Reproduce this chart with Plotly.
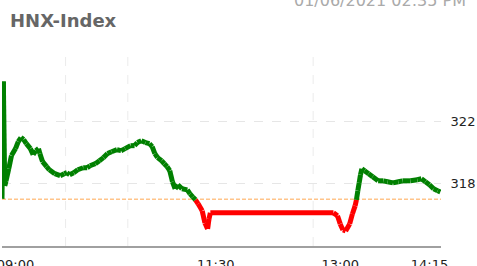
import plotly.graph_objects as go

# ---------------- data ----------------
DAY = "2021-06-01"
times = ["09:00", "09:01", "09:02", "09:03", "09:05", "09:07", "09:10", "09:12", "09:14", "09:16",
         "09:18", "09:21", "09:23", "09:25", "09:27", "09:28", "09:30", "09:33", "09:35", "09:39",
         "09:43", "09:46", "09:48", "09:50", "09:53", "09:56", "10:00", "10:03", "10:05", "10:09",
         "10:12", "10:15", "10:18", "10:21", "10:25", "10:28", "10:31", "10:35", "10:38", "10:40",
         "10:43", "10:46", "10:49", "10:51", "10:53", "10:55", "10:58", "11:00", "11:02", "11:04",
         "11:06", "11:08", "11:10", "11:13", "11:17", "11:19", "11:21", "11:23", "11:25", "11:28",
         "11:30", "11:32", "11:33", "11:34", "13:05", "13:08", "13:10", "13:12", "13:14", "13:17",
         "13:19", "13:21", "13:22", "13:23", "13:24", "13:25", "13:26", "13:28", "13:31", "13:34",
         "13:38", "13:42", "13:45", "13:49", "13:53", "13:56", "14:02", "14:07", "14:10", "14:13",
         "14:16", "14:19", "14:22", "14:24"]
index_values = [317.03, 324.58, 317.87, 318.19, 318.97, 319.81, 320.26, 320.71, 320.97, 320.84,
                320.58, 320.26, 319.87, 320.13, 320.26, 319.94, 319.42, 319.10, 318.90, 318.65,
                318.52, 318.65, 318.71, 318.58, 318.71, 318.90, 319.03, 319.03, 319.16, 319.29,
                319.48, 319.68, 319.94, 320.06, 320.19, 320.13, 320.26, 320.45, 320.45, 320.65,
                320.77, 320.65, 320.58, 320.39, 319.94, 319.68, 319.48, 319.29, 319.10, 318.84,
                318.13, 317.68, 317.94, 317.68, 317.61, 317.35, 317.16, 316.97, 316.71, 316.26,
                315.48, 315.10, 315.74, 316.13, 316.13, 315.94, 315.42, 315.03, 314.97, 315.42,
                316.06, 316.58, 316.97, 317.55, 318.06, 318.58, 318.97, 318.84, 318.65, 318.45,
                318.19, 318.19, 318.13, 318.06, 318.13, 318.19, 318.19, 318.26, 318.32, 318.13,
                317.94, 317.68, 317.55, 317.48]
reference_value = 317.0

x_tick_labels = ["09:00", "11:30", "13:00", "14:15"]
x_label_positions = ["09:10", "11:38", "13:10", "14:16"]
x_grid_positions = ["09:47", "10:33", "12:50"]
y_tick_values = [318, 322]

title_text = "HNX-Index"
timestamp_text = "01/06/2021 02:35 PM"

# ---------------- build ----------------
def ts(t):
    return f"{DAY} {t}"

xs = [ts(t) for t in times]

GREEN = "#008000"
RED = "#ff0000"

green_x, green_y, red_x, red_y = [], [], [], []
for i in range(len(xs) - 1):
    avg = (index_values[i] + index_values[i + 1]) / 2
    if avg >= reference_value:
        green_x += [xs[i], xs[i + 1], None]
        green_y += [index_values[i], index_values[i + 1], None]
    else:
        red_x += [xs[i], xs[i + 1], None]
        red_y += [index_values[i], index_values[i + 1], None]

fig = go.Figure()
fig.add_trace(go.Scatter(x=red_x, y=red_y, mode="lines",
                         line=dict(color=RED, width=5), hoverinfo="skip", showlegend=False))
fig.add_trace(go.Scatter(x=green_x, y=green_y, mode="lines",
                         line=dict(color=GREEN, width=5), hoverinfo="skip", showlegend=False))

# vertical dashed grid lines
for g in x_grid_positions:
    fig.add_shape(type="line", xref="x", x0=ts(g), x1=ts(g), yref="paper", y0=0, y1=1,
                  line=dict(color="#ebebeb", width=1, dash="dash"), layer="below")

# reference (previous close) line
fig.add_shape(type="line", xref="paper", x0=0, x1=1, yref="y",
              y0=reference_value, y1=reference_value,
              line=dict(color="#ffc48a", width=1.5, dash="4px,2px"), layer="below")

x_range = [ts("09:00"), ts("14:24:30")]
FONT = "DejaVu Sans"
ML, MR, MT, MB = 2, 36, 50, 20
W, H = 477, 266
PW, PH = W - ML - MR, H - MT - MB

fig.update_layout(
    width=W, height=H,
    margin=dict(l=ML, r=MR, t=MT, b=MB, pad=0, autoexpand=False),
    paper_bgcolor="white", plot_bgcolor="white",
    font=dict(family=FONT, size=13, color="#222222"),
    xaxis=dict(type="date", range=x_range, automargin=False,
               tickvals=[ts(t) for t in x_label_positions], ticktext=x_tick_labels,
               ticks="outside", ticklen=5, tickcolor="rgba(0,0,0,0)",
               ticklabeloverflow="allow",
               tickfont=dict(family=FONT, size=13, color="#222222"),
               showgrid=False,
               showline=True, linecolor="#a0a0a0", linewidth=2,
               zeroline=False, fixedrange=True),
    yaxis=dict(range=[314.0, 326.6], side="right", automargin=False,
               tickvals=y_tick_values, ticktext=[str(v) for v in y_tick_values],
               ticks="outside", ticklen=6, tickcolor="rgba(0,0,0,0)",
               ticklabeloverflow="allow",
               tickfont=dict(family=FONT, size=13, color="#222222"),
               showgrid=True, gridcolor="#e6e6e6", griddash="dash", gridwidth=1,
               showline=False, zeroline=False, fixedrange=True),
    annotations=[
        dict(text=f"<b>{title_text}</b>", xref="paper", yref="paper",
             x=(8 - ML) / PW, y=1 + (MT - 21) / PH, xanchor="left", yanchor="middle",
             showarrow=False, font=dict(family=FONT, size=18, color="#666666")),
        dict(text=timestamp_text, xref="paper", yref="paper",
             x=(380 - ML) / PW, y=1 + (MT - 0) / PH, xanchor="center", yanchor="middle",
             showarrow=False, font=dict(family=FONT, size=16, color="#aaaaaa")),
    ],
)

fig.write_html("out.html", config={"displayModeBar": False},
               post_script="document.body.style.margin='0';document.body.style.overflow='hidden';")
